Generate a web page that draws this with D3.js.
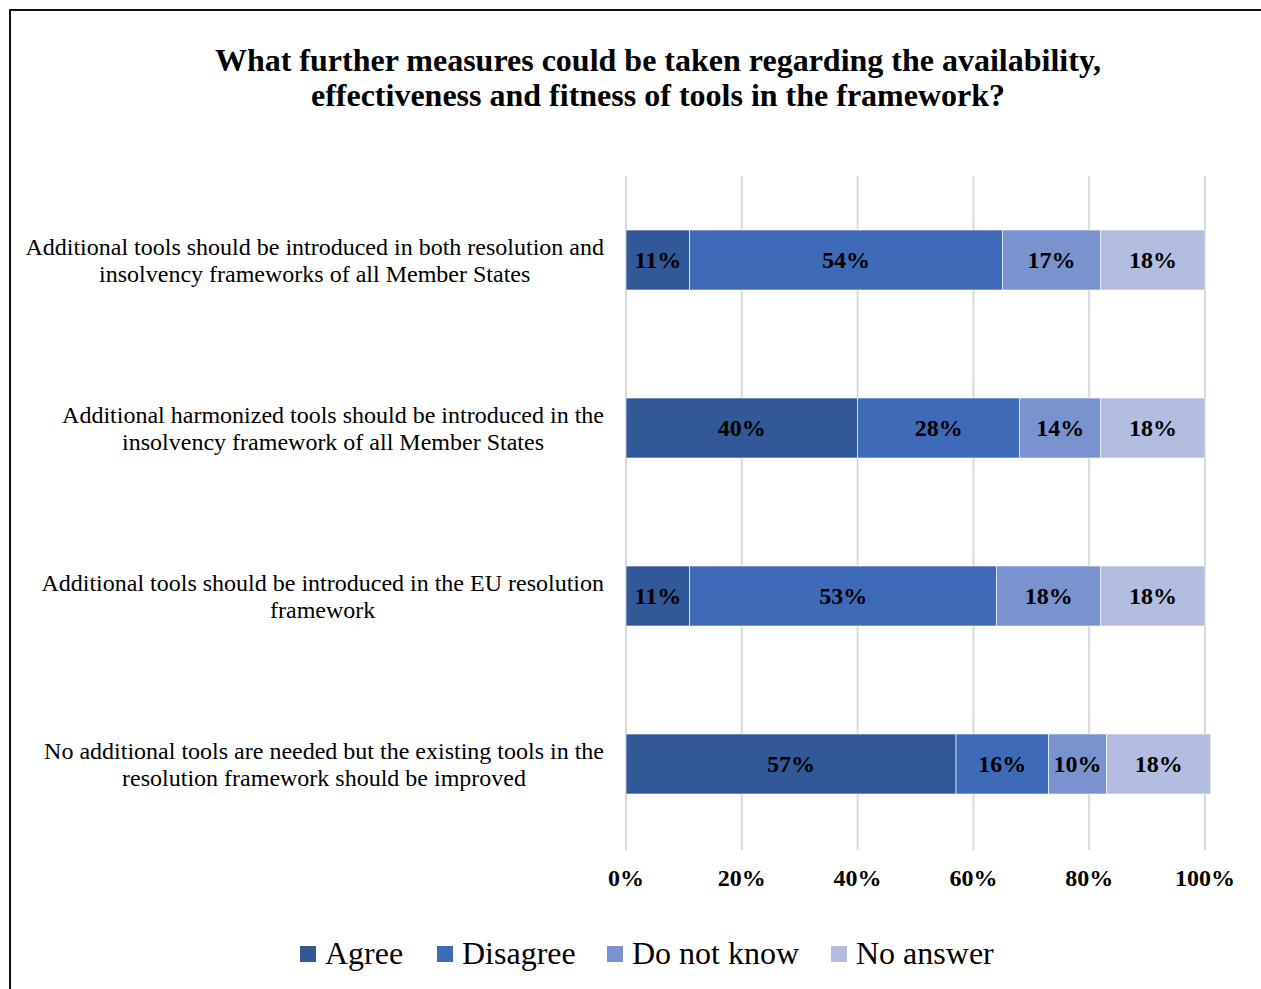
<!DOCTYPE html>
<html>
<head>
<meta charset="utf-8">
<script src="https://cdn.jsdelivr.net/npm/d3@7"></script>
<style>
  html, body { margin: 0; padding: 0; background: #fff; }
  svg { display: block; }
</style>
</head>
<body>
<svg id="chart" width="1261" height="989"></svg>
<script>
// Survey statements (each entry is a list of wrapped lines)
const categories = [
  ["Additional tools should be introduced in both resolution and", "insolvency frameworks of all Member States"],
  ["Additional harmonized tools should be introduced in the", "insolvency framework of all Member States"],
  ["Additional tools should be introduced in the EU resolution", "framework"],
  ["No additional tools are needed but the existing tools in the", "resolution framework should be improved"]
];
const seriesNames = ["Agree", "Disagree", "Do not know", "No answer"];
const agree      = [11, 40, 11, 57];
const disagree   = [54, 28, 53, 16];
const doNotKnow  = [17, 14, 18, 10];
const noAnswer   = [18, 18, 18, 18];
const tickValues = [0, 20, 40, 60, 80, 100];
const colors = ["#335897", "#3f6ab7", "#7a92ce", "#b2bde0"];

const seriesValues = [agree, disagree, doNotKnow, noAnswer];
const rows = categories.map((c, i) => {
  const r = { key: i };
  seriesNames.forEach((s, j) => r[s] = seriesValues[j][i]);
  return r;
});

const svg = d3.select("#chart");
const serif = "'Liberation Serif', 'Times New Roman', serif";

// outer frame
svg.append("rect")
  .attr("x", 10).attr("y", 10)
  .attr("width", 1300).attr("height", 1100)
  .attr("fill", "none").attr("stroke", "#111").attr("stroke-width", 2);

// title
const title = svg.append("text")
  .attr("text-anchor", "middle")
  .attr("font-family", serif).attr("font-weight", "bold")
  .attr("font-size", 32).attr("fill", "#000");
title.append("tspan").attr("x", 658).attr("y", 71)
  .text("What further measures could be taken regarding the availability,");
title.append("tspan").attr("x", 658).attr("y", 106)
  .text("effectiveness and fitness of tools in the framework?");

const x = d3.scaleLinear().domain([0, 100]).range([626, 1205]);
const y = d3.scaleBand().domain(d3.range(categories.length)).range([176, 848]).paddingInner(0.643).paddingOuter(0.3215);

// vertical gridlines
svg.append("g").selectAll("line").data(tickValues).join("line")
  .attr("x1", d => x(d)).attr("x2", d => x(d))
  .attr("y1", 176).attr("y2", 850)
  .attr("stroke", "#d9d9d9").attr("stroke-width", 2);

// stacked bars
const stack = d3.stack().keys(seriesNames)(rows);
const layers = svg.append("g").selectAll("g").data(stack).join("g")
  .attr("fill", (d, i) => colors[i]);
layers.selectAll("rect").data(d => d).join("rect")
  .attr("x", d => x(d[0]))
  .attr("y", (d, i) => y(i))
  .attr("width", d => x(d[1]) - x(d[0]))
  .attr("height", y.bandwidth())
  .attr("stroke", "#ffffff").attr("stroke-width", 0.6);

// value labels
layers.selectAll("text").data(d => d).join("text")
  .attr("x", d => (x(d[0]) + x(d[1])) / 2)
  .attr("y", (d, i) => y(i) + y.bandwidth() / 2)
  .attr("dy", "0.35em")
  .attr("text-anchor", "middle")
  .attr("font-family", serif).attr("font-weight", "bold")
  .attr("font-size", 24).attr("fill", "#000")
  .text(d => (d[1] - d[0]) + "%");

// category labels: centred block, right edge at 604
const labelRight = 604;
const catG = svg.append("g");
categories.forEach((lines, i) => {
  const t = catG.append("text")
    .attr("font-family", serif).attr("font-size", 24).attr("fill", "#000")
    .attr("text-anchor", "middle");
  const cy = y(i) + y.bandwidth() / 2;
  const spans = lines.map((ln, k) => t.append("tspan")
    .attr("y", cy + (k - (lines.length - 1) / 2) * 27)
    .attr("dy", "0.35em")
    .text(ln));
  const maxW = d3.max(spans, s => s.node().getComputedTextLength());
  spans.forEach(s => s.attr("x", labelRight - maxW / 2));
});

// x axis tick labels
svg.append("g").selectAll("text").data(tickValues).join("text")
  .attr("x", d => x(d)).attr("y", 886)
  .attr("text-anchor", "middle")
  .attr("font-family", serif).attr("font-weight", "bold")
  .attr("font-size", 24).attr("fill", "#000")
  .text(d => d + "%");

// legend
const legendX = [300, 437, 607, 831];
const lg = svg.append("g").selectAll("g").data(seriesNames).join("g")
  .attr("transform", (d, i) => `translate(${legendX[i]},946)`);
lg.append("rect").attr("width", 16).attr("height", 16)
  .attr("fill", (d, i) => colors[i]);
lg.append("text").attr("x", 25).attr("y", 18)
  .attr("font-family", serif).attr("font-size", 32).attr("fill", "#000")
  .text(d => d);
</script>
</body>
</html>
